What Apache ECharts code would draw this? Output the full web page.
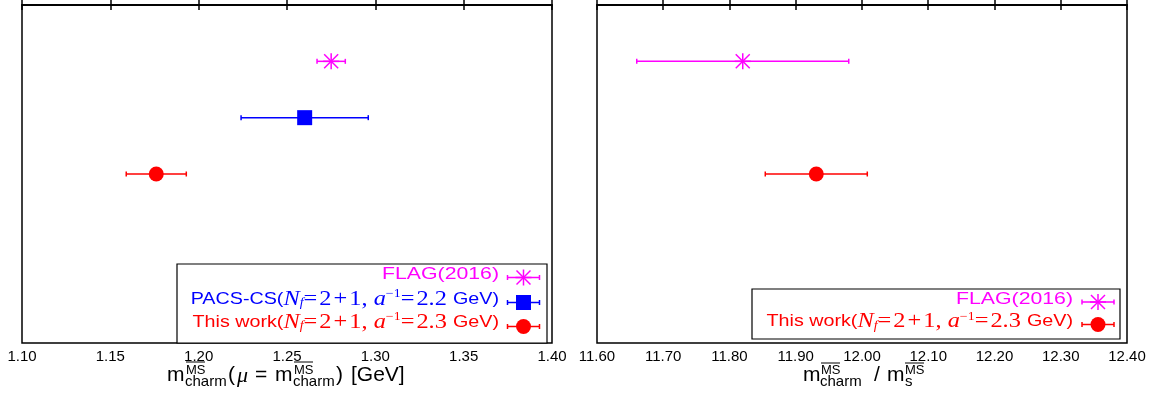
<!DOCTYPE html>
<html>
<head>
<meta charset="utf-8">
<script src="https://cdn.jsdelivr.net/npm/echarts@6/dist/echarts.min.js"></script>
<style>
  html, body { margin: 0; background: #fff; }
  #chart { width: 1156px; height: 399px; }
</style>
</head>
<body>
<div id="chart"></div>
<script>
// rows are the order of the results, top to bottom
const categories = ['FLAG(2016)', 'PACS-CS', 'This work'];

// left panel: m_charm(mu = m_charm) [GeV]
const massNames = ['FLAG(2016)', 'PACS-CS', 'This work'];
const massValues = [1.275, 1.260, 1.176];
const massErrors = [0.008, 0.036, 0.017];
const massTicks = ['1.10', '1.15', '1.20', '1.25', '1.30', '1.35', '1.40'];

// right panel: m_charm / m_s
const ratioNames = ['FLAG(2016)', 'This work'];
const ratioValues = [11.82, 11.931];
const ratioErrors = [0.16, 0.077];
const ratioTicks = ['11.60', '11.70', '11.80', '11.90', '12.00', '12.10', '12.20', '12.30', '12.40'];

const colors = { 'FLAG(2016)': '#ff00ff', 'PACS-CS': '#0000ff', 'This work': '#ff0000' };
const kinds = { 'FLAG(2016)': 'star', 'PACS-CS': 'square', 'This work': 'circle' };

const SANS = '"Liberation Sans", Arial, sans-serif';
const SERIF = '"Liberation Serif", "Times New Roman", serif';

// error bar + marker, in pixels
function glyph(cx, cy, x0, x1, kind, color) {
  const ls = { stroke: color, lineWidth: 1.5 };
  const kids = [
    { type: 'line', shape: { x1: x0, y1: cy, x2: x1, y2: cy }, style: ls },
    { type: 'line', shape: { x1: x0, y1: cy - 2.5, x2: x0, y2: cy + 2.5 }, style: ls },
    { type: 'line', shape: { x1: x1, y1: cy - 2.5, x2: x1, y2: cy + 2.5 }, style: ls }
  ];
  if (kind === 'circle') {
    kids.push({ type: 'circle', shape: { cx: cx, cy: cy, r: 7.5 }, style: { fill: color } });
  } else if (kind === 'square') {
    kids.push({ type: 'rect', shape: { x: cx - 7.5, y: cy - 7.5, width: 15, height: 15 }, style: { fill: color } });
  } else {
    const r = 8, d = 7;
    kids.push(
      { type: 'line', shape: { x1: cx, y1: cy - r, x2: cx, y2: cy + r }, style: ls },
      { type: 'line', shape: { x1: cx - r, y1: cy, x2: cx + r, y2: cy }, style: ls },
      { type: 'line', shape: { x1: cx - d, y1: cy - d, x2: cx + d, y2: cy + d }, style: ls },
      { type: 'line', shape: { x1: cx - d, y1: cy + d, x2: cx + d, y2: cy - d }, style: ls }
    );
  }
  return kids;
}

function makeSeries(names, values, errors, gridIdx) {
  return names.map((name, i) => ({
    name: name,
    type: 'custom',
    xAxisIndex: gridIdx * 2,
    yAxisIndex: gridIdx,
    clip: false,
    encode: { x: 1, y: 0 },
    data: [[categories.indexOf(name) + 1, values[i], errors[i]]],
    renderItem(params, api) {
      const row = api.value(0), x = api.value(1), e = api.value(2);
      const c = api.coord([x, row]);
      const lo = api.coord([x - e, row]);
      const hi = api.coord([x + e, row]);
      return { type: 'group', children: glyph(c[0], c[1], lo[0], hi[0], kinds[name], colors[name]) };
    }
  }));
}

function xAxes(ticks, gridIdx) {
  const min = parseFloat(ticks[0]);
  const max = parseFloat(ticks[ticks.length - 1]);
  const interval = parseFloat(ticks[1]) - min;
  const base = {
    type: 'value', gridIndex: gridIdx, min: min, max: max, interval: interval,
    axisLine: { lineStyle: { color: '#000', width: 1.5 } },
    axisTick: { inside: true, length: 5, lineStyle: { color: '#000', width: 1.5 } },
    splitLine: { show: false }
  };
  return [
    { ...base, position: 'bottom',
      axisLabel: { color: '#000', fontSize: 15, fontFamily: SANS, margin: 6,
        formatter: v => v.toFixed(2) } },
    { ...base, position: 'top', axisLabel: { show: false } }
  ];
}

function yAxis(gridIdx) {
  return {
    type: 'value', gridIndex: gridIdx, min: 0, max: 6, inverse: true,
    axisLine: { show: false }, axisTick: { show: false },
    axisLabel: { show: false }, splitLine: { show: false }
  };
}

function richFor(color) {
  return {
    s: { fontFamily: SANS, fontSize: 17, fill: color },
    r: { fontFamily: SERIF, fontSize: 21, fill: color },
    i: { fontFamily: SERIF, fontSize: 21, fontStyle: 'italic', fill: color },
    sub: { fontFamily: SERIF, fontSize: 12, fontStyle: 'italic', fill: color, padding: [8, 0, 0, 0] },
    sup: { fontFamily: SERIF, fontSize: 12, fill: color, padding: [0, 0, 10, 0] }
  };
}

const legendText = {
  'FLAG(2016)': '{s|FLAG(2016)}',
  'PACS-CS': '{s|PACS-CS(}{i|N}{sub|f}{r|=\u200a2\u200a+\u200a1, }{i|a}{sup|\u22121}{r|=\u200a2.2 }{s|GeV)}',
  'This work': '{s|This work(}{i|N}{sub|f}{r|=\u200a2\u200a+\u200a1, }{i|a}{sup|\u22121}{r|=\u200a2.3 }{s|GeV)}'
};
const legendStretch = { 'FLAG(2016)': 1.25, 'PACS-CS': 1.16, 'This work': 1.16 };

function legend(names, box, textRight, glyphX, textY, glyphY) {
  const items = [{
    type: 'rect', shape: box,
    style: { fill: '#fff', stroke: '#000', lineWidth: 1.2 }
  }];
  names.forEach((name, i) => {
    items.push({
      type: 'text', x: textRight, y: textY[i], scaleX: legendStretch[name],
      style: { text: legendText[name], rich: richFor(colors[name]), align: 'right', verticalAlign: 'middle' }
    });
    items.push({
      type: 'group',
      children: glyph(glyphX, glyphY[i], glyphX - 16, glyphX + 16, kinds[name], colors[name])
    });
  });
  return items;
}

function txt(x, y, text, size) {
  return {
    type: 'text', x: x, y: y,
    style: { text: text, fontSize: size, fontFamily: SANS, fill: '#000', verticalAlign: 'middle' }
  };
}
function overline(x, y, w) {
  return { type: 'line', shape: { x1: x, y1: y, x2: x + w, y2: y }, style: { stroke: '#000', lineWidth: 1 } };
}

const titles = [
  // left: m_charm^MS (mu = m_charm^MS) [GeV]
  txt(167, 375, 'm', 21),
  overline(186, 362, 19), txt(186, 370, 'MS', 13),
  txt(185, 382, 'charm', 15),
  txt(228, 375, '(', 21),
  { type: 'text', x: 237, y: 376,
    style: { text: '\u03bc', fontFamily: SERIF, fontSize: 22, fontStyle: 'italic', fill: '#000', verticalAlign: 'middle' } },
  txt(255, 375, '=', 21),
  txt(275, 375, 'm', 21),
  overline(294, 362, 19), txt(294, 370, 'MS', 13),
  txt(293, 382, 'charm', 15),
  txt(336, 375, ')', 21),
  txt(351, 375, '[GeV]', 21),
  // right: m_charm^MS / m_s^MS
  txt(803, 375, 'm', 21),
  overline(821, 363, 19), txt(821, 370, 'MS', 13),
  txt(820, 382, 'charm', 15),
  txt(874, 375, '/', 21),
  txt(887, 375, 'm', 21),
  txt(905, 382, 's', 15),
  overline(905, 363, 19), txt(905, 370, 'MS', 13)
];

const chart = echarts.init(document.getElementById('chart'));
chart.setOption({
  animation: false,
  backgroundColor: '#fff',
  grid: [
    { left: 22, top: 5, width: 530, height: 338, show: true, borderColor: '#000', borderWidth: 1.5, backgroundColor: 'transparent' },
    { left: 597, top: 5, width: 530, height: 338, show: true, borderColor: '#000', borderWidth: 1.5, backgroundColor: 'transparent' }
  ],
  xAxis: [...xAxes(massTicks, 0), ...xAxes(ratioTicks, 1)],
  yAxis: [yAxis(0), yAxis(1)],
  series: [
    ...makeSeries(massNames, massValues, massErrors, 0),
    ...makeSeries(ratioNames, ratioValues, ratioErrors, 1)
  ],
  graphic: {
    elements: [
      { type: 'group', z: 100, children: legend(massNames, { x: 177, y: 264, width: 370, height: 79 }, 499, 523.5, [274, 299, 322], [277.5, 302.5, 326.5]) },
      { type: 'group', z: 100, children: legend(ratioNames, { x: 752, y: 289, width: 368, height: 50 }, 1073, 1098, [299.5, 321.5], [302, 324.5]) },
      { type: 'group', children: titles }
    ]
  }
});
</script>
</body>
</html>
